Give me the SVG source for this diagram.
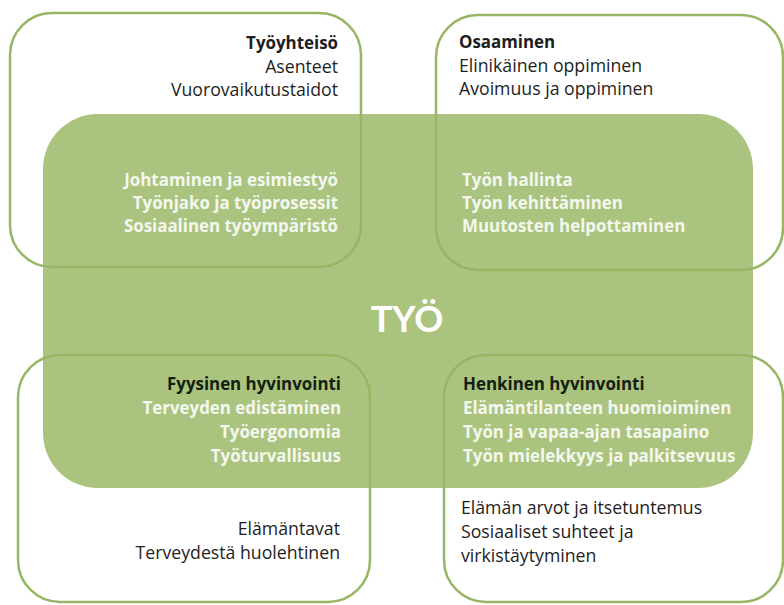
<svg xmlns="http://www.w3.org/2000/svg" width="784" height="605" viewBox="0 0 784 605">
<style>
.t{font-family:"Open Sans",Lato,"Liberation Sans",sans-serif;font-size:17.7px}
.b{font-weight:bold;font-size:16.9px}
.k{fill:#1e1e1e}
.h{fill:#142010}
.w{fill:#f4f7ee}
.e{text-anchor:end}
.box{fill:none;stroke:#97b663;stroke-width:2.5}
</style>
<rect width="784" height="605" fill="#ffffff"/>
<g id="tyo">
<rect x="43" y="114" width="710" height="374" rx="55" ry="55" fill="#aac47f"/>
<text x="407" y="332" fill="#ffffff" text-anchor="middle" style="font-family:Lato,'Open Sans',sans-serif;font-weight:bold;font-size:36px">TYÖ</text>
</g>
<g id="tyoyhteiso">
<rect class="box" x="10" y="13" width="351" height="254" rx="42"/>
<text class="t b k e" x="338" y="49">Työyhteisö</text>
<text class="t k e" x="338" y="73">Asenteet</text>
<text class="t k e" x="338" y="96">Vuorovaikutustaidot</text>
<text class="t b w e" x="338" y="186">Johtaminen ja esimiestyö</text>
<text class="t b w e" x="338" y="209">Työnjako ja työprosessit</text>
<text class="t b w e" x="338" y="232">Sosiaalinen työympäristö</text>
</g>
<g id="osaaminen">
<rect class="box" x="436" y="15" width="347" height="255" rx="42"/>
<text class="t b k" x="459" y="48">Osaaminen</text>
<text class="t k" x="459" y="72">Elinikäinen oppiminen</text>
<text class="t k" x="459" y="95">Avoimuus ja oppiminen</text>
<text class="t b w" x="462" y="186">Työn hallinta</text>
<text class="t b w" x="462" y="209">Työn kehittäminen</text>
<text class="t b w" x="462" y="232">Muutosten helpottaminen</text>
</g>
<g id="fyysinen">
<rect class="box" x="18" y="355" width="352" height="247" rx="42"/>
<text class="t b h e" x="341" y="390">Fyysinen hyvinvointi</text>
<text class="t b w e" x="341" y="414">Terveyden edistäminen</text>
<text class="t b w e" x="341" y="438">Työergonomia</text>
<text class="t b w e" x="341" y="462">Työturvallisuus</text>
<text class="t k e" x="340" y="535">Elämäntavat</text>
<text class="t k e" x="340" y="559">Terveydestä huolehtinen</text>
</g>
<g id="henkinen">
<rect class="box" x="444" y="355" width="339" height="247" rx="42"/>
<text class="t b h" x="463" y="390">Henkinen hyvinvointi</text>
<text class="t b w" x="463" y="414">Elämäntilanteen huomioiminen</text>
<text class="t b w" x="463" y="438">Työn ja vapaa-ajan tasapaino</text>
<text class="t b w" x="463" y="462">Työn mielekkyys ja palkitsevuus</text>
<text class="t k" x="461" y="514">Elämän arvot ja itsetuntemus</text>
<text class="t k" x="461" y="538">Sosiaaliset suhteet ja</text>
<text class="t k" x="461" y="562">virkistäytyminen</text>
</g>
<g id="connectors"></g>
</svg>
